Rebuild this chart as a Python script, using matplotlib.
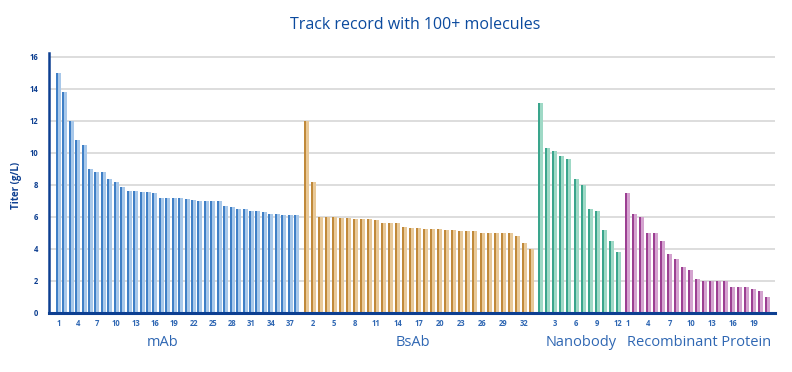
import numpy as np
import matplotlib
matplotlib.use("Agg")
import matplotlib.pyplot as plt

plt.rcParams['font.family'] = ['Open Sans', 'DejaVu Sans']

# titers (g/L) per molecule, sorted within each modality
mab = [15.0, 13.8, 12.0, 10.8, 10.5, 9.0, 8.8, 8.8, 8.4, 8.2, 7.9, 7.6, 7.6,
       7.55, 7.55, 7.5, 7.2, 7.2, 7.2, 7.2, 7.1, 7.05, 7.0, 7.0, 7.0, 7.0,
       6.7, 6.6, 6.5, 6.5, 6.4, 6.35, 6.3, 6.2, 6.2, 6.15, 6.15, 6.1]
bsab = [12.0, 8.2, 6.0, 6.0, 6.0, 5.95, 5.95, 5.9, 5.85, 5.85, 5.8, 5.65,
        5.6, 5.6, 5.4, 5.3, 5.3, 5.25, 5.25, 5.25, 5.2, 5.2, 5.15, 5.15,
        5.1, 5.0, 5.0, 5.0, 5.0, 5.0, 4.8, 4.35, 4.0]
nano = [13.1, 10.3, 10.1, 9.8, 9.6, 8.4, 8.0, 6.5, 6.4, 5.2, 4.5, 3.8]
recomb = [7.5, 6.2, 6.0, 5.0, 5.0, 4.5, 3.7, 3.4, 2.9, 2.7, 2.1, 2.0, 2.0,
          2.0, 2.0, 1.6, 1.6, 1.6, 1.5, 1.4, 1.0]

group_names = ['mAb', 'BsAb', 'Nanobody', 'Recombinant Protein']
group_values = [mab, bsab, nano, recomb]
label_start = [1, 2, 3, 1]          # first labelled molecule number per group
dark_colors = ['#3f7fc6', '#c0893a', '#3aa58c', '#9c3f92']
light_colors = ['#a8c8ea', '#e8c999', '#9fd9c6', '#d4a3cf']

# layout (x in pixel-like units along the axis)
first_center = [58.3, 306.0, 540.7, 627.3]
pitch = [6.44, 7.04, 7.06, 7.03]
label_center = [163, 413, 581, 699]

fig = plt.figure(figsize=(7.92, 3.72), dpi=100)
ax = fig.add_axes([49 / 792, 1 - 313 / 372, (775 - 49) / 792, (313 - 53) / 372])

navy = '#0d3f91'
tick_blue = '#2f67b3'

tick_pos, tick_lab = [], []
for g, vals in enumerate(group_values):
    x = first_center[g] + pitch[g] * np.arange(len(vals))
    ax.bar(x - 2.5, vals, width=2.0, align='edge', color=dark_colors[g], zorder=3)
    ax.bar(x - 0.5, vals, width=3.0, align='edge', color=light_colors[g], zorder=3)
    for i in range(label_start[g] - 1, len(vals), 3):
        tick_pos.append(x[i])
        tick_lab.append(str(i + 1))
    fig.text(label_center[g] / 792, 1 - 343 / 372, group_names[g],
             ha='center', va='center', fontsize=10.5, color=tick_blue)

ax.set_xlim(49, 775)
ax.set_ylim(0, 16.25)
ax.set_yticks(np.arange(0, 17, 2))
ax.set_xticks(tick_pos)
ax.set_xticklabels(tick_lab)
ax.tick_params(axis='x', length=0, pad=4.5, labelsize=5.5, labelcolor=tick_blue)
ax.tick_params(axis='y', length=0, pad=8, labelsize=5.5, labelcolor=navy)
for t in ax.get_yticklabels():
    t.set_fontweight('bold')
for t in ax.get_xticklabels():
    t.set_fontweight('bold')

ax.grid(axis='y', color='#dadada', linewidth=1.3, zorder=0)
ax.set_axisbelow(True)
for s in ['top', 'right']:
    ax.spines[s].set_visible(False)
ax.spines['left'].set_color(navy)
ax.spines['left'].set_linewidth(1.8)
ax.spines['bottom'].set_color(navy)
ax.spines['bottom'].set_linewidth(2.2)
ax.spines['left'].set_zorder(4)
ax.spines['bottom'].set_zorder(4)

fig.text(17 / 792, 1 - 185 / 372, 'Titer (g/L)', rotation=90, ha='center',
         va='center', fontsize=7, fontweight='bold', color=navy)
fig.text(415 / 792, 1 - 25 / 372, 'Track record with 100+ molecules',
         ha='center', va='center', fontsize=11.5, color='#0b4a9e')

fig.savefig('out.png', dpi=100)
